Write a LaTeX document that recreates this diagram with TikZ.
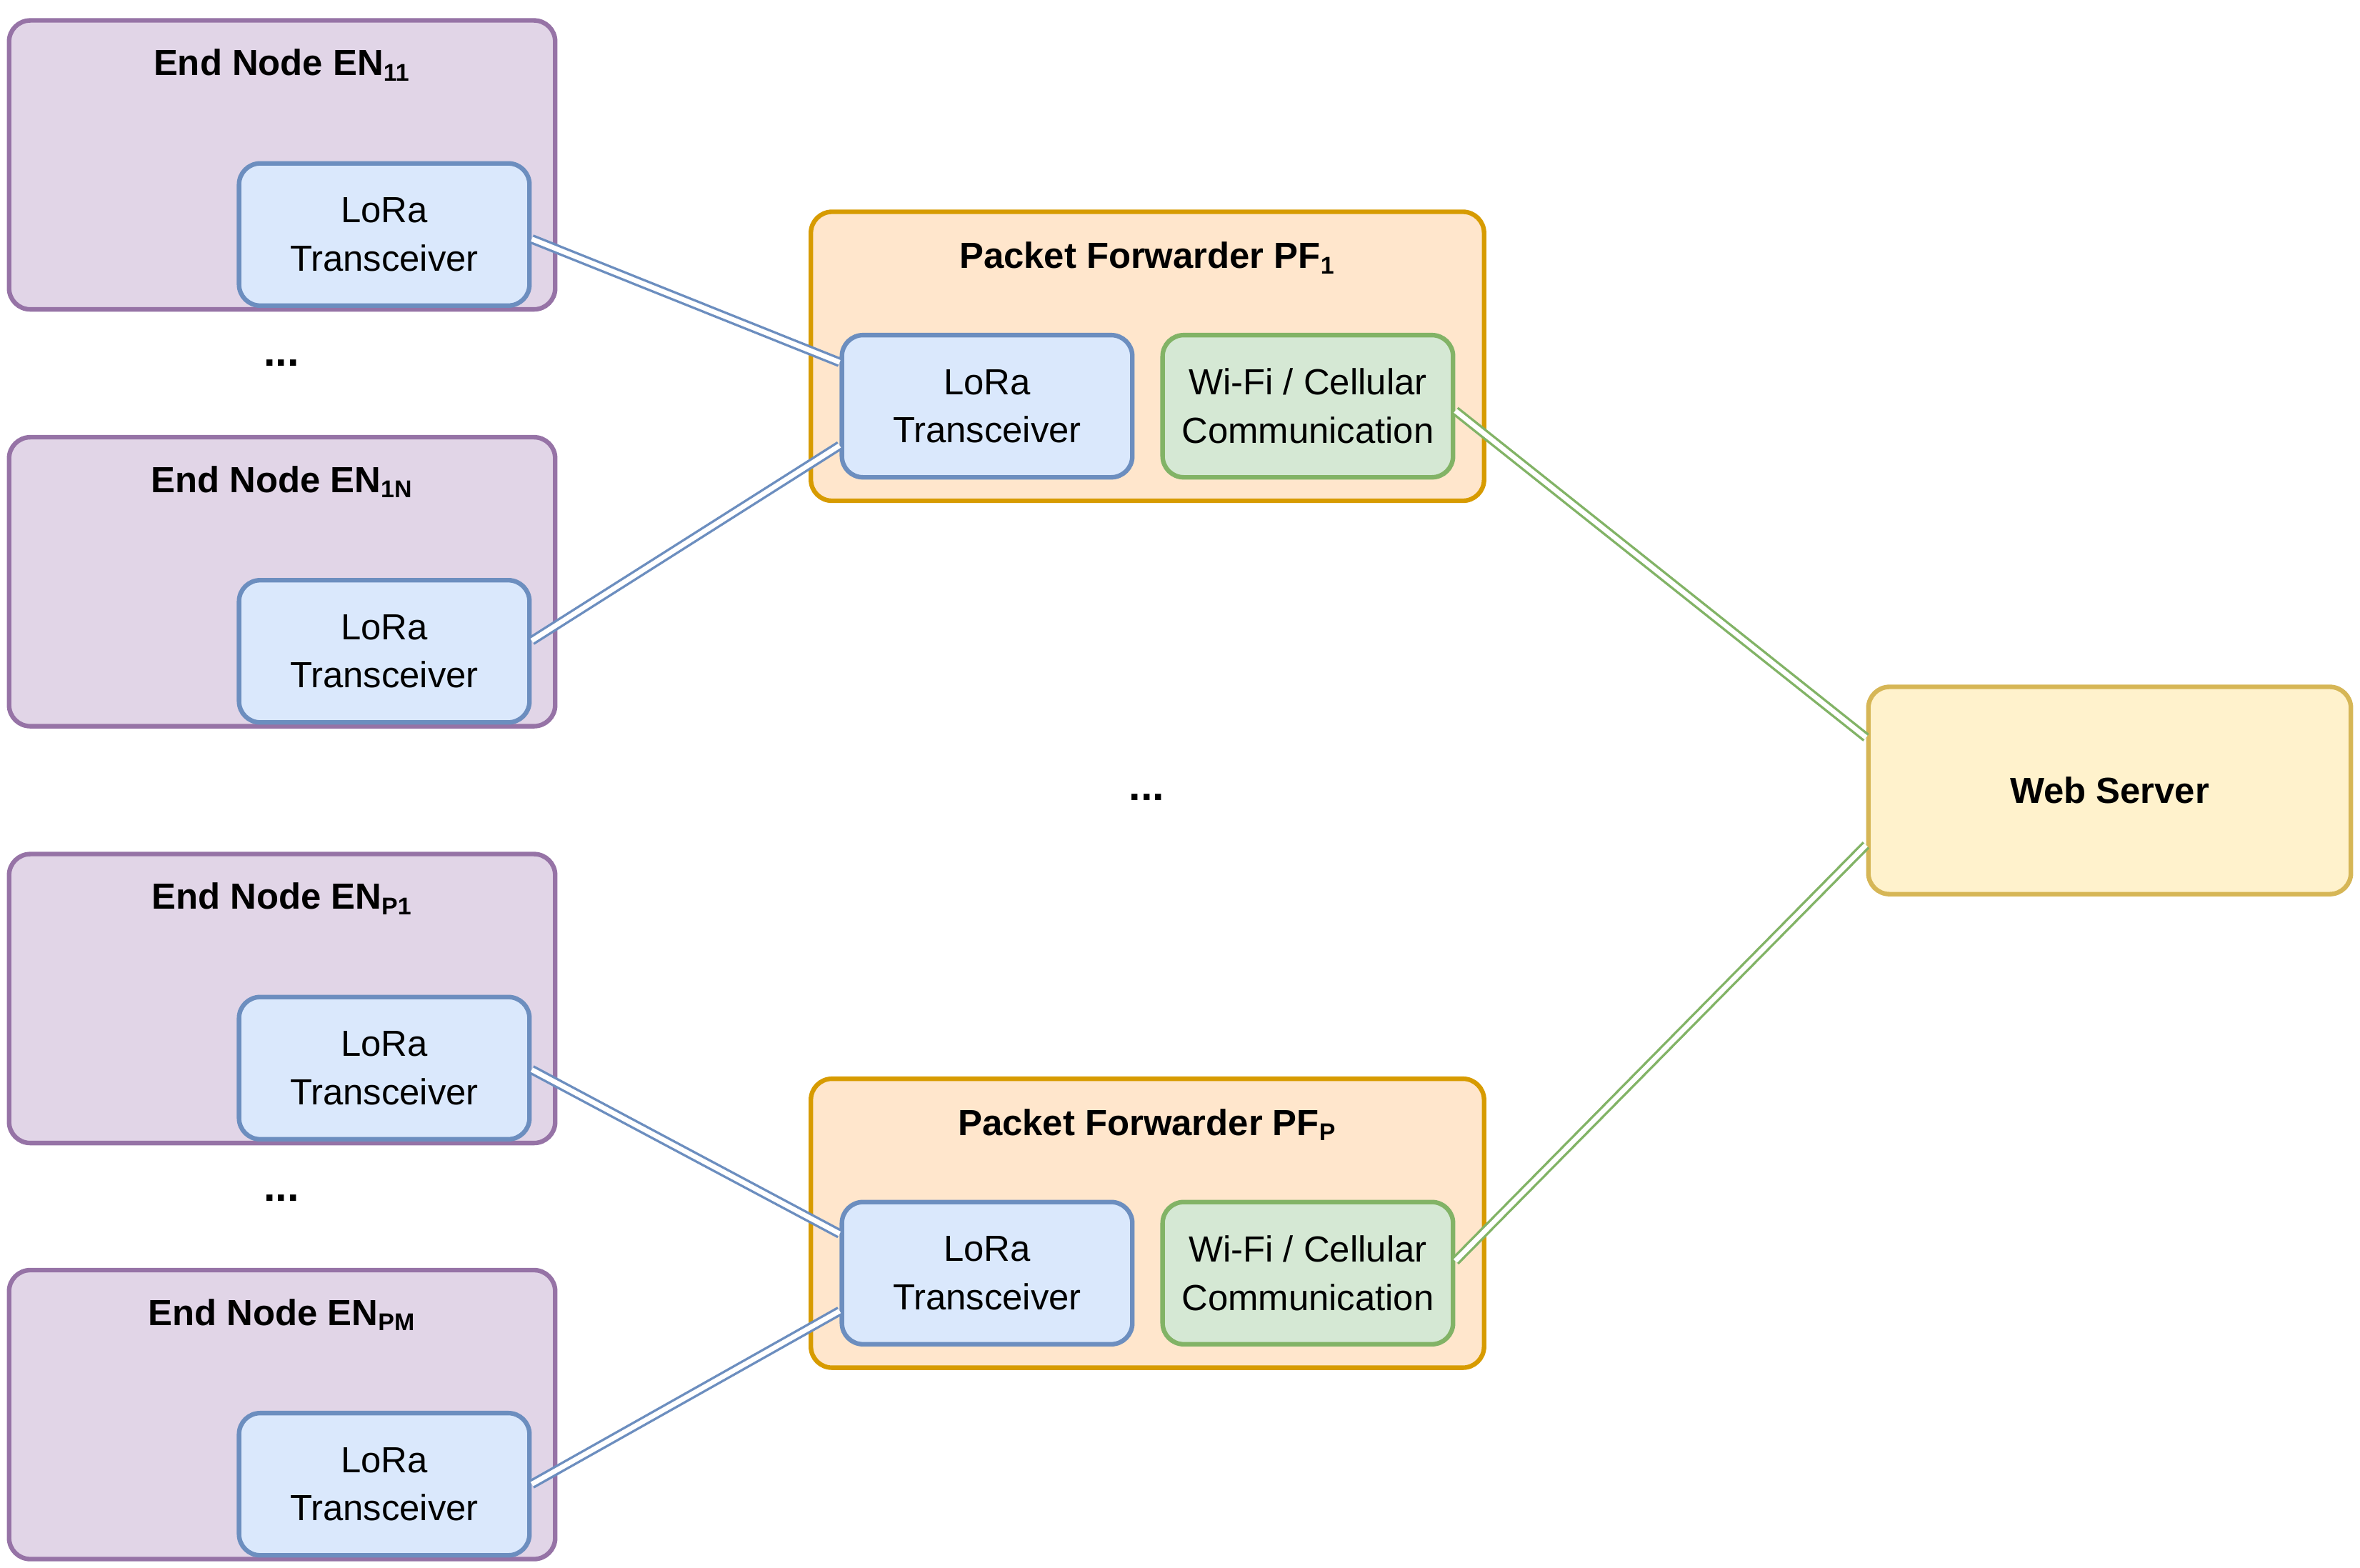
\documentclass[tikz,border=0pt]{standalone}
\usepackage{fontspec}
\setmainfont{Liberation Sans}
\usetikzlibrary{calc}
\definecolor{pf}{HTML}{E1D5E7}\definecolor{ps}{HTML}{9673A6}
\definecolor{bf}{HTML}{DAE8FC}\definecolor{bs}{HTML}{6C8EBF}
\definecolor{of}{HTML}{FFE6CC}\definecolor{os}{HTML}{D79B00}
\definecolor{gf}{HTML}{D5E8D4}\definecolor{gs}{HTML}{82B366}
\definecolor{yf}{HTML}{FFF2CC}\definecolor{ys}{HTML}{D6B656}
\begin{document}
\begin{tikzpicture}[x=0.5pt,y=-0.5pt,
 box/.style={draw,rounded corners=7pt,line width=1.5pt,inner sep=0pt},
 en/.style={box,fill=pf,draw=ps,minimum width=180.5pt,minimum height=95.5pt},
 pfw/.style={box,fill=of,draw=os,minimum width=222.5pt,minimum height=95.5pt},
 lora/.style={box,fill=bf,draw=bs,minimum width=96pt,minimum height=47pt,align=center,font=\fontsize{12}{16}\selectfont},
 wifi/.style={box,fill=gf,draw=gs,minimum width=96pt,minimum height=47pt,align=center,font=\fontsize{12}{16}\selectfont},
 web/.style={box,fill=yf,draw=ys,minimum width=159.5pt,minimum height=68.5pt,font=\bfseries\fontsize{12}{14}\selectfont},
 ttl/.style={font=\bfseries\fontsize{12}{14}\selectfont},
 bl/.style={draw=bs,double=white,double distance=1.6pt,line width=0.8pt},
 gl/.style={draw=gs,double=white,double distance=1.6pt,line width=0.8pt}]
\useasboundingbox (0,0) rectangle (1560,1036);
\newcommand\EN[4]{%
 \node[en] (#1) at (186.5,#2) {};
 \node[ttl] at (186.5,#2-66) {#3};
 \node[lora] (#4) at (254,#2+46) {LoRa\\Transceiver};}
\EN{e11}{109}{End Node EN\textsubscript{11}}{e11l}
\EN{e1n}{384.5}{End Node EN\textsubscript{1N}}{e1nl}
\EN{ep1}{660}{End Node EN\textsubscript{P1}}{ep1l}
\EN{epm}{935}{End Node EN\textsubscript{PM}}{epml}
\newcommand\PF[4]{%
 \node[pfw] (#1) at (758.5,#2) {};
 \node[ttl] at (758.5,#2-65) {#3};
 \node[lora] (#4l) at (652.5,#2+33) {LoRa\\Transceiver};
 \node[wifi] (#4w) at (864.5,#2+33) {Wi-Fi / Cellular\\Communication};}
\PF{pf1}{235.5}{Packet Forwarder PF\textsubscript{1}}{p1}
\PF{pfp}{808.5}{Packet Forwarder PF\textsubscript{P}}{pp}
\node[web] (ws) at (1394.5,522.5) {Web Server};
\node[ttl,font=\bfseries\fontsize{14}{14}\selectfont] (d1) at (186,240) {...};
\node[ttl,font=\bfseries\fontsize{14}{14}\selectfont] (d2) at (758,527) {...};
\node[ttl,font=\bfseries\fontsize{14}{14}\selectfont] (d3) at (186,792) {...};
\draw[bl] ($(e11l.east)+(0,3)$) -- ($(p1l.west)+(0,-29)$);
\draw[bl] ($(e1nl.east)+(0,-7)$) -- ($(p1l.west)+(0,26)$);
\draw[bl] ($(ep1l.east)+(0,1)$) -- ($(ppl.west)+(0,-26)$);
\draw[bl] ($(epml.east)+(0,0)$) -- ($(ppl.west)+(0,25)$);
\draw[gl] ($(p1w.east)+(0,3)$) -- ($(ws.west)+(0,-35)$);
\draw[gl] ($(ppw.east)+(0,-8)$) -- ($(ws.west)+(0,36)$);
\end{tikzpicture}
\end{document}
